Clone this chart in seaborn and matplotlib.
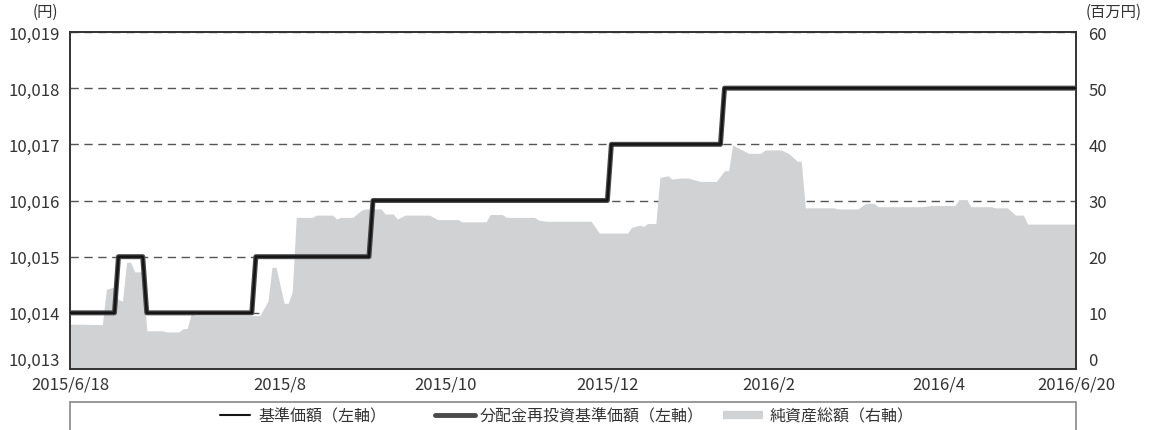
import numpy as np
import matplotlib
matplotlib.use("Agg")
import matplotlib.pyplot as plt
from matplotlib.lines import Line2D
from matplotlib.patches import Rectangle
from matplotlib.ticker import FuncFormatter
import seaborn as sns

# --- data (x = trading-day index 0..249) ---
n_days = 250
nav_change_idx = [0, 12, 19, 46, 75, 134, 162]
nav_levels = [10014, 10015, 10014, 10015, 10016, 10017, 10018]

# net assets (million yen), breakpoints joined by straight lines
asset_idx = [0, 8, 9, 11, 12, 13, 14, 15, 16, 18, 19, 23, 24, 27, 28, 29, 30, 31,
             47, 49, 50, 51, 53, 54, 55, 56, 60, 61, 65, 66, 67, 70, 72, 73, 77,
             78, 80, 81, 83, 89, 91, 96, 97, 103, 104, 107, 108, 115, 116, 118,
             129, 131, 138, 139, 141, 142, 143, 145, 146, 148, 149, 151, 153,
             156, 160, 162, 163, 164, 165, 168, 171, 172, 176, 178, 180, 181,
             182, 189, 190, 195, 197, 199, 200, 211, 213, 219, 220, 222, 223,
             228, 229, 232, 234, 236, 237, 249]
asset_val = [8.0, 7.9, 14.2, 14.6, 12.3, 12.1, 19.0, 19.0, 17.3, 17.3, 6.8, 6.8,
             6.6, 6.6, 7.2, 7.2, 9.8, 9.5, 9.5, 12.1, 18.1, 18.1, 11.7, 11.7,
             13.7, 27.0, 27.0, 27.4, 27.4, 26.7, 27.0, 27.0, 28.2, 28.5, 28.5,
             27.6, 27.6, 26.7, 27.4, 27.4, 26.6, 26.6, 26.2, 26.2, 27.5, 27.5,
             27.0, 27.0, 26.5, 26.3, 26.3, 24.2, 24.2, 25.2, 25.6, 25.4, 25.9,
             25.9, 34.1, 34.4, 33.8, 34.0, 34.0, 33.4, 33.4, 35.3, 35.3, 39.9,
             39.5, 38.4, 38.4, 39.0, 39.0, 38.3, 37.0, 37.0, 28.7, 28.7, 28.5,
             28.5, 29.5, 29.5, 28.9, 28.9, 29.1, 29.1, 30.1, 30.1, 28.9, 28.9,
             28.7, 28.7, 27.4, 27.4, 25.8, 25.8]

tick_pos = [0, 52, 93, 133, 173, 215, 249]
tick_labels = ["2015/6/18", "2015/8", "2015/10", "2015/12", "2016/2", "2016/4", "2016/6/20"]
left_ticks = [10013, 10014, 10015, 10016, 10017, 10018, 10019]
right_ticks = [0, 10, 20, 30, 40, 50, 60]

legend_labels = ["基準価額（左軸）", "分配金再投資基準価額（左軸）", "純資産総額（右軸）"]

# daily series built from the step changes
counts = np.diff(nav_change_idx + [n_days])
nav = np.repeat(nav_levels, counts)
nav_reinvest = nav.copy()
days = np.arange(n_days)

sns.set_theme(style="white")
plt.rcParams['font.family'] = ['Noto Sans CJK JP', 'DejaVu Sans']

W, H = 1152, 431
fig = plt.figure(figsize=(W / 100, H / 100), dpi=100)
ax = fig.add_axes([70 / W, 1 - 370 / H, 1006 / W, 337 / H])
ax2 = ax.twinx()

text_col = "#333333"
area_col = "#d1d2d4"
line_col = "#151515"
reinv_col = "#4a4a4a"

# area on the right axis, behind everything
ax2.fill_between(asset_idx, asset_val, 0, color=area_col, lw=0, zorder=1)
ax2.set_ylim(0, 60)
ax2.set_yticks(right_ticks)
ax2.set_axisbelow(True)
ax2.yaxis.grid(True, color="#555555", lw=1.0, ls=(0, (6, 4)))
ax2.xaxis.grid(False)

# lines on the left axis, drawn on top
ax.set_zorder(ax2.get_zorder() + 1)
ax.patch.set_visible(False)
sns.lineplot(x=days, y=nav_reinvest, ax=ax, color=reinv_col, lw=3.6, zorder=3)
sns.lineplot(x=days, y=nav, ax=ax, color=line_col, lw=1.8, zorder=4)
ax.set_xlim(0, n_days - 1)
ax.set_ylim(10013, 10019)
ax.set_yticks(left_ticks)
ax.yaxis.set_major_formatter(FuncFormatter(lambda v, p: f"{int(v):,}"))
ax.set_xticks(tick_pos)
ax.set_xticklabels(tick_labels)
ax.set_xlabel("")
ax.set_ylabel("")
ax.grid(False)

ax.tick_params(axis="x", direction="in", length=6, width=1, color="#333333",
               labelsize=12, labelcolor=text_col, pad=5)
ax.tick_params(axis="y", length=0, labelsize=12, labelcolor=text_col, pad=7)
ax2.tick_params(axis="y", length=0, labelsize=12, labelcolor=text_col, pad=9)

for a in (ax, ax2):
    for s in a.spines.values():
        s.set_color("#333333")
        s.set_linewidth(1.2)

fig.canvas.draw()
ax.get_yticklabels()[0].set_verticalalignment("bottom")
ax2.get_yticklabels()[0].set_verticalalignment("bottom")

# unit labels
fig.text(45 / W, 1 - 12 / H, "(円)", ha="center", va="center", fontsize=11, color=text_col)
fig.text(1114 / W, 1 - 12 / H, "(百万円)", ha="center", va="center", fontsize=11, color=text_col)

# legend box (cut off at the bottom like the source)
fig.patches.append(Rectangle((70 / W, -0.05), 1006 / W, (431 - 403) / H + 0.05,
                             transform=fig.transFigure, fill=False,
                             edgecolor="#888888", lw=1.2))

# one legend per entry so each sits where it does in the source
handles = [
    Line2D([], [], color=line_col, lw=1.5),
    Line2D([], [], color=reinv_col, lw=3.5),
    Line2D([], [], color=area_col, lw=6, solid_capstyle="butt"),
]
entry_x = [220, 435, 723]
handle_len = [1.9, 2.5, 2.5]
text_pad = [0.5, 0.3, 0.4]
for h, lab, x0, hl, tp in zip(handles, legend_labels, entry_x, handle_len, text_pad):
    leg = fig.legend([h], [lab], loc="center left", bbox_to_anchor=(x0 / W, 1 - 417 / H),
                     frameon=False, fontsize=11.5, handlelength=hl, handletextpad=tp,
                     borderpad=0, borderaxespad=0, labelcolor=text_col)

fig.savefig("out.png", dpi=100)
